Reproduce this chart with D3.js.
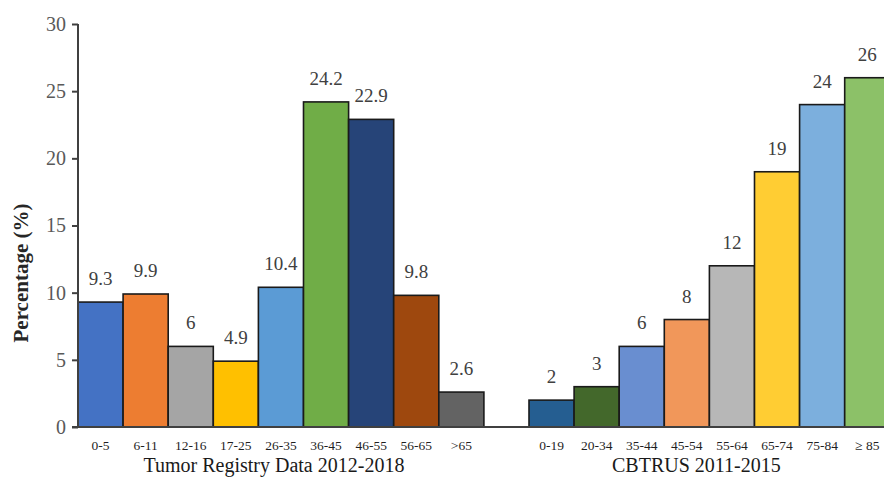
<!DOCTYPE html>
<html><head><meta charset="utf-8">
<script src="https://cdn.jsdelivr.net/npm/d3@7"></script>
<style>
body{margin:0;background:#fff;}
svg{display:block;}
svg text{font-family:"Liberation Serif","Times New Roman",serif;}
</style></head>
<body><svg id="c" width="884" height="477"></svg>
<script>
const registryAges = ["0-5","6-11","12-16","17-25","26-35","36-45","46-55","56-65",">65"];
const registryValues = [9.3,9.9,6,4.9,10.4,24.2,22.9,9.8,2.6];
const registryColors = ["#4472C4","#ED7D31","#A5A5A5","#FFC000","#5B9BD5","#70AD47","#264478","#9E480E","#636363"];
const cbtrusAges = ["0-19","20-34","35-44","45-54","55-64","65-74","75-84","\u2265 85"];
const cbtrusValues = [2,3,6,8,12,19,24,26];
const cbtrusColors = ["#255E91","#43682B","#698ED0","#F1975A","#B7B7B7","#FFCD33","#7CAFDD","#8CC168"];
const groupTitles = ["Tumor Registry Data 2012-2018","CBTRUS 2011-2015"];
const yTicks = [0,5,10,15,20,25,30];
const yTitle = "Percentage (%)";

const bars = [];
registryAges.forEach((a,i)=>bars.push({key:"r"+i,label:a,value:registryValues[i],color:registryColors[i],group:0}));
const gapKey = "gap";
cbtrusAges.forEach((a,i)=>bars.push({key:"c"+i,label:a,value:cbtrusValues[i],color:cbtrusColors[i],group:1}));
const domain = bars.filter(d=>d.group===0).map(d=>d.key).concat([gapKey]).concat(bars.filter(d=>d.group===1).map(d=>d.key));

const svg = d3.select("#c");
const x = d3.scaleBand().domain(domain).range([78, 78+18*45.1]).padding(0);
const y = d3.scaleLinear().domain([0,30]).range([427,24]);

// bars
svg.append("g").selectAll("rect").data(bars).join("rect")
  .attr("x",d=>x(d.key)).attr("y",d=>y(d.value))
  .attr("width",x.bandwidth()).attr("height",d=>y(0)-y(d.value))
  .attr("fill",d=>d.color).attr("stroke","#1a1a1a").attr("stroke-width",1.6);

// value labels
svg.append("g").selectAll("text").data(bars).join("text")
  .attr("x",d=>x(d.key)+x.bandwidth()/2).attr("y",d=>y(d.value)-17)
  .attr("text-anchor","middle").attr("font-size",19).attr("fill","#404040")
  .text(d=>d.value);

// y axis
const yAxis = d3.axisLeft(y).tickValues(yTicks).tickSize(6).tickPadding(6).tickFormat(d3.format("d"));
const gy = svg.append("g").attr("transform","translate(78,0)").call(yAxis);
gy.attr("font-family",null);
gy.select(".domain").attr("stroke","#404040").attr("stroke-width",2).attr("d","M0,24V427");
gy.selectAll(".tick line").attr("stroke","#404040").attr("stroke-width",2);
gy.selectAll(".tick text").attr("font-size",20).attr("fill","#595959");

// x baseline
svg.append("line").attr("x1",72).attr("x2",884).attr("y1",y(0)).attr("y2",y(0))
  .attr("stroke","#404040").attr("stroke-width",2);

// category labels
svg.append("g").selectAll("text").data(bars).join("text")
  .attr("x",d=>x(d.key)+x.bandwidth()/2).attr("y",450)
  .attr("text-anchor","middle").attr("font-size",13.5).attr("fill","#1f1f1f")
  .text(d=>d.label);

// group titles
[0,1].forEach(g=>{
  const ks = bars.filter(d=>d.group===g);
  const cx = (x(ks[0].key) + x(ks[ks.length-1].key)+x.bandwidth())/2 + (g===0?-7:-13);
  svg.append("text").attr("x",cx).attr("y",472).attr("text-anchor","middle")
    .attr("font-size",20).attr("fill","#1a1a1a").text(groupTitles[g]);
});

// y title
svg.append("text").attr("transform","translate(28,273) rotate(-90)")
  .attr("text-anchor","middle").attr("font-size",21).attr("font-weight","bold")
  .attr("fill","#262626").text(yTitle);
</script></body></html>
